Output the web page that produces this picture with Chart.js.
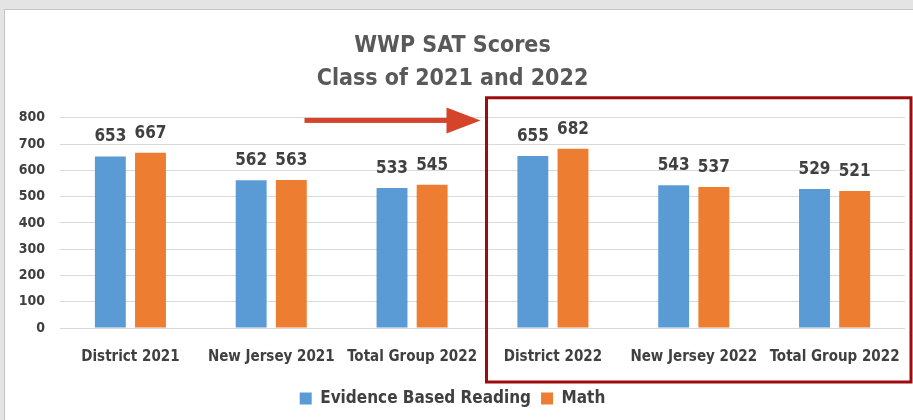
<!DOCTYPE html>
<html>
<head>
<meta charset="utf-8">
<script src="https://cdn.jsdelivr.net/npm/chart.js@4"></script>
<style>
  html, body { margin: 0; padding: 0; }
  body { width: 913px; height: 420px; background: #e4e4e4; position: relative; overflow: hidden; }
  #panel { position: absolute; left: 4px; top: 9px; width: 920px; height: 420px; background: #fff; border: 1px solid #c4c4c4; }
  #wrap { position: absolute; left: 0; top: 0; width: 913px; height: 420px; }
</style>
</head>
<body>
<div id="panel"></div>
<div id="wrap"><canvas id="satChart"></canvas></div>
<script>
// chart data
const categories = ['District 2021', 'New Jersey 2021', 'Total Group 2022', 'District 2022', 'New Jersey 2022', 'Total Group 2022'];
const readingScores = [653, 562, 533, 655, 543, 529];
const mathScores = [667, 563, 545, 682, 537, 521];
const yTicks = [0, 100, 200, 300, 400, 500, 600, 700, 800];

const fontFamily = '"DejaVu Sans Condensed", "DejaVu Sans", sans-serif';

// value labels above each bar
const barLabels = {
  id: 'barLabels',
  afterDatasetsDraw(chart) {
    const ctx = chart.ctx;
    ctx.save();
    ctx.font = 'bold 17px ' + fontFamily;
    ctx.fillStyle = '#404040';
    ctx.textAlign = 'center';
    ctx.textBaseline = 'bottom';
    chart.data.datasets.forEach((ds, i) => {
      chart.getDatasetMeta(i).data.forEach((bar, j) => {
        ctx.fillText(ds.data[j], bar.x, bar.y - 11);
      });
    });
    ctx.restore();
  }
};

// red box round the 2022 groups, and the arrow pointing at it
const highlight = {
  id: 'highlight',
  afterDraw(chart) {
    const ctx = chart.ctx;
    const x = chart.scales.x, y = chart.scales.y;
    const step = x.getPixelForValue(1) - x.getPixelForValue(0);
    const left = x.getPixelForValue(3) - step / 2 + 4;
    const right = chart.chartArea.right + 6;
    const top = y.getPixelForValue(800) - 20;
    const bottom = chart.chartArea.bottom + 54;
    ctx.save();
    ctx.strokeStyle = '#9e0b0f';
    ctx.lineWidth = 3;
    ctx.strokeRect(left, top, right - left, bottom - top);

    const ay = y.getPixelForValue(790);
    ctx.fillStyle = '#d5432a';
    ctx.fillRect(left - 182, ay - 2.5, 150, 5);
    ctx.beginPath();
    ctx.moveTo(left - 40, ay - 13);
    ctx.lineTo(left - 6, ay);
    ctx.lineTo(left - 40, ay + 13);
    ctx.closePath();
    ctx.fill();
    ctx.restore();
  }
};

new Chart(document.getElementById('satChart'), {
  type: 'bar',
  data: {
    labels: categories,
    datasets: [{
      label: 'Evidence Based Reading',
      data: readingScores,
      backgroundColor: '#5b9bd5',
      categoryPercentage: 0.57,
      barPercentage: 0.77
    }, {
      label: 'Math',
      data: mathScores,
      backgroundColor: '#ed7d31',
      categoryPercentage: 0.57,
      barPercentage: 0.77
    }]
  },
  options: {
    responsive: true,
    maintainAspectRatio: false,
    animation: false,
    layout: {
      padding: { top: 30, right: 8, bottom: 3, left: 0 }
    },
    plugins: {
      title: {
        display: true,
        text: ['WWP SAT Scores', 'Class of 2021 and 2022'],
        color: '#595959',
        font: { family: fontFamily, size: 23, weight: 'bold', lineHeight: 1.43 },
        padding: { top: 0, bottom: 22 }
      },
      legend: {
        position: 'bottom',
        labels: {
          color: '#404040',
          font: { family: fontFamily, size: 17, weight: 'bold' },
          boxWidth: 12,
          boxHeight: 12,
          padding: 10
        }
      },
      tooltip: { enabled: false }
    },
    scales: {
      x: {
        grid: { display: false },
        border: { display: false },
        ticks: {
          color: '#404040',
          font: { family: fontFamily, size: 15, weight: 'bold' },
          padding: 12,
          maxRotation: 0,
          autoSkip: false
        },
        afterFit: s => { s.height = 52; s.paddingLeft = 0; s.paddingRight = 0; }
      },
      y: {
        min: 0,
        max: 800,
        afterBuildTicks: s => { s.ticks = yTicks.map(v => ({ value: v })); },
        grid: { color: '#d9d9d9', drawTicks: false },
        border: { display: false },
        ticks: {
          color: '#404040',
          font: { family: fontFamily, size: 14, weight: 'bold' },
          padding: 15
        },
        afterFit: s => { s.width = 60; }
      }
    }
  },
  plugins: [barLabels, highlight]
});
</script>
</body>
</html>
